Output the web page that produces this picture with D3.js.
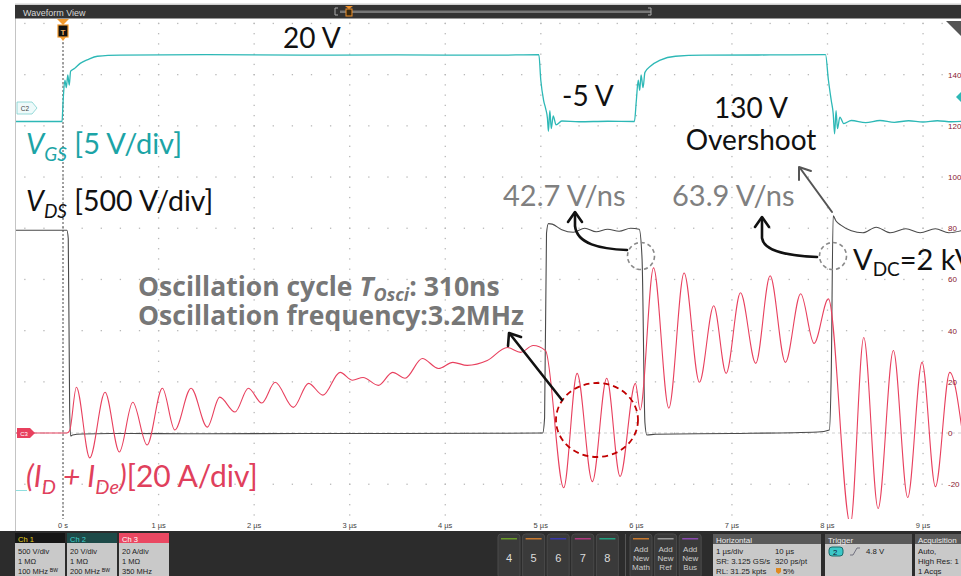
<!DOCTYPE html>
<html><head><meta charset="utf-8">
<script src="https://cdn.jsdelivr.net/npm/d3@7/dist/d3.min.js"></script>
<style>body{margin:0;background:#fff;overflow:hidden}svg{display:block}</style>
</head><body><svg id="c" width="961" height="576"></svg>
<script>
// ---------------- data ----------------
const timeTicks = [0,1,2,3,4,5,6,7,8,9];
const timeTickLabels = ["0 s","1 µs","2 µs","3 µs","4 µs","5 µs","6 µs","7 µs","8 µs","9 µs"];
const currentTicks = [140,120,100,80,60,40,20,0,-20];

// Ch3: (I_D + I_De) in A
const idTime = [-0.5,0.04,0.07,0.14,0.28,0.44,0.59,0.73,0.88,1.04,1.17,1.34,1.51,1.64,1.80,1.94,2.08,2.22,2.41,2.57,2.72,2.90,3.03,3.14,3.30,3.45,3.58,3.76,3.93,4.08,4.23,4.44,4.65,4.79,4.92,5.05,5.24,5.38,5.54,5.69,5.83,5.99,6.04,6.18,6.34,6.50,6.66,6.81,6.94,7.09,7.25,7.40,7.56,7.72,7.86,8.01,8.24,8.38,8.53,8.69,8.84,8.99,9.13,9.28,9.42];
const idAmps = [0,0,1,17.9,-9.7,15.9,-7.4,12,-4.7,17.5,1.2,17.5,2.3,14,8.2,17.5,11.7,19.8,10,19.4,14.8,23.7,20.6,21.7,18.6,23.7,21.4,29.1,25.2,27.6,26.4,28.3,33.4,31.5,34.2,32.2,-21.4,23.3,-19,21.4,-17,19.4,9,64.5,9.7,62.5,19.8,49.7,23.3,54.8,27.2,61.4,27.6,54.4,35,52.4,-35.7,37.3,-29.5,32.2,-25.2,27.6,-21,23.7,-2];

// Ch1: V_DS in V
const vdsTime = [-0.5,0.04,0.055,0.07,0.08,0.1,0.2,0.5,1.5,2.5,3.5,4.5,5.02,5.04,5.06,5.08,5.12,5.22,5.34,5.46,5.58,5.7,5.82,5.94,6.03,6.06,6.09,6.11,6.2,7.0,7.9,8.02,8.04,8.06,8.09,8.14,8.25,8.37,8.51,8.66,8.82,8.97,9.13,9.27,9.42];
const vdsVolts = [1980,1980,1900,200,-30,-20,-10,-5,-8,-5,-5,-3,0,150,1950,2045,2040,1985,1960,2000,1965,1990,1970,2000,1990,1700,100,-20,-12,-5,10,30,600,2120,2070,2030,1975,1955,2010,1955,1995,1955,1995,1955,1980];

// Ch2: V_GS in V
const vgsTime = [-0.5,-0.01,0.0,0.02,0.035,0.05,0.065,0.08,0.12,0.18,0.26,0.36,0.6,1.5,2.5,3.5,4.5,4.98,5.0,5.03,5.05,5.07,5.08,5.095,5.11,5.13,5.16,5.22,5.4,5.7,5.98,6.0,6.02,6.035,6.05,6.07,6.09,6.15,6.25,6.41,6.7,7.4,7.98,8.01,8.04,8.06,8.075,8.09,8.105,8.13,8.17,8.25,8.4,8.55,8.7,8.85,9.0,9.15,9.3,9.42];
const vgsVolts = [-5.2,-5.2,2,11,8,13,9,14.5,15.5,17.5,19,20.3,20.7,20.9,20.7,20.8,20.7,20.9,11,3,0,-4,-9,-1,-8,-3,-6.5,-5,-5.3,-5.1,-5.2,3,11,7,13,8,14,16.5,18.8,20.3,20.7,20.8,20.9,11,3,-2,-10,-1,-8,-3.5,-6,-4.8,-5.6,-4.8,-5.5,-4.9,-5.4,-4.9,-5.3,-5.1];

const chBoxes = [
  {name:"Ch 1", lines:["500 V/div","1 MΩ","100 MHz ᴮᵂ"]},
  {name:"Ch 2", lines:["20 V/div","1 MΩ","200 MHz ᴮᵂ"]},
  {name:"Ch 3", lines:["20 A/div","1 MΩ","350 MHz"]}
];
const slotLabels = ["4","5","6","7","8"];
const addLabels = ["Math","Ref","Bus"];

// ---------------- drawing ----------------
const svg = d3.select("#c");
const W = 961, H = 576;
const x = d3.scaleLinear().domain([0,9]).range([63,923]);
const yI = d3.scaleLinear().domain([0,20]).range([433,381.8]);
const yV = d3.scaleLinear().domain([0,500]).range([433,381.8]);
const yG = d3.scaleLinear().domain([0,20]).range([108.2,57]);
const plotTop = 19, plotBot = 519, plotL = 16;

svg.append("rect").attr("width",W).attr("height",H).attr("fill","#fff");
svg.append("defs").append("clipPath").attr("id","plot")
  .append("rect").attr("x",plotL).attr("y",plotTop).attr("width",W-plotL).attr("height",plotBot-plotTop);

// grid dots
const g = svg.append("g").attr("fill","#b8b8b8");
const rowVals = d3.range(-20,161,20);
rowVals.forEach(v=>{
  const yy = yI(v);
  if (yy<plotTop||yy>plotBot) return;
  for (let xx = x(0) - 19.1*2; xx < W; xx += 19.11) {
    if (xx < plotL+2) continue;
    g.append("rect").attr("x",xx-0.6).attr("y",yy-0.6).attr("width",1.3).attr("height",1.3);
  }
});
timeTicks.forEach(t=>{
  const xx = x(t);
  for (let yy = yI(160); yy < plotBot-2; yy += 10.24) {
    g.append("rect").attr("x",xx-0.6).attr("y",yy-0.6).attr("width",1.3).attr("height",1.3);
  }
});

// zero reference dashed line
svg.append("line").attr("x1",plotL).attr("x2",W).attr("y1",yI(0)).attr("y2",yI(0))
  .attr("stroke","#cfcfcf").attr("stroke-width",1).attr("stroke-dasharray","3,3");

// trigger dotted vertical line
svg.append("line").attr("x1",x(0)).attr("x2",x(0)).attr("y1",42).attr("y2",plotBot)
  .attr("stroke","#333").attr("stroke-width",0.9).attr("stroke-dasharray","2,2");

// traces
const zip = (a,b)=>a.map((d,i)=>[d,b[i]]);
const traces = svg.append("g").attr("clip-path","url(#plot)").attr("fill","none");
traces.append("path").datum(zip(vgsTime,vgsVolts))
  .attr("d", d3.line().x(d=>x(d[0])).y(d=>yG(d[1])).curve(d3.curveMonotoneX))
  .attr("stroke","#2db8b6").attr("stroke-width",1.3);
traces.append("path").datum(zip(vdsTime,vdsVolts))
  .attr("d", d3.line().x(d=>x(d[0])).y(d=>yV(d[1])).curve(d3.curveMonotoneX))
  .attr("stroke","#4a4a4a").attr("stroke-width",1.1);
traces.append("path").datum(zip(idTime,idAmps))
  .attr("d", d3.line().x(d=>x(d[0])).y(d=>yI(d[1])).curve(d3.curveMonotoneX))
  .attr("stroke","#e8405e").attr("stroke-width",1.1);

// right-hand scale labels
svg.append("g").selectAll("text").data(currentTicks).join("text")
  .attr("x",948).attr("y",d=>yI(d)+3).text(d=>d)
  .attr("font-family","Liberation Sans, Arial, sans-serif").attr("font-size",8).attr("fill","#8a2030");

// time labels
svg.append("g").selectAll("text").data(timeTicks).join("text")
  .attr("x",d=>x(d)).attr("y",528).attr("text-anchor","middle").text((d,i)=>timeTickLabels[i])
  .attr("font-family","Liberation Sans, Arial, sans-serif").attr("font-size",7.5).attr("fill","#444");

// left frame
svg.append("line").attr("x1",15.5).attr("x2",15.5).attr("y1",5).attr("y2",531).attr("stroke","#c4c4c4");

// header
svg.append("rect").attr("x",15).attr("y",3.5).attr("width",W-15).attr("height",1.5).attr("fill","#d0d0d0");
svg.append("rect").attr("x",15).attr("y",5).attr("width",W-15).attr("height",13.5).attr("fill","#333333");
svg.append("text").attr("x",23).attr("y",15.5).text("Waveform View")
  .attr("font-family","Liberation Sans, Arial, sans-serif").attr("font-size",9).attr("fill","#d8d8d8");
svg.append("rect").attr("x",340).attr("y",10.5).attr("width",311).attr("height",2.5).attr("fill","#777");
svg.append("path").attr("d","M338,8 L335,8 L335,15 L338,15").attr("stroke","#aaa").attr("fill","none");
svg.append("path").attr("d","M648,8 L651,8 L651,15 L648,15").attr("stroke","#aaa").attr("fill","none");
svg.append("path").attr("d","M345,6 L353,6 L349,9 Z").attr("fill","#f0902a");
svg.append("rect").attr("x",346).attr("y",9).attr("width",6).attr("height",7).attr("fill","#3a2a10").attr("stroke","#f0902a").attr("stroke-width",1);

// trigger T marker
svg.append("path").attr("d","M57,19 L69,19 L63,25 Z").attr("fill","#f39a2e");
svg.append("rect").attr("x",58).attr("y",25).attr("width",10).attr("height",12).attr("fill","#111").attr("stroke","#f39a2e").attr("stroke-width",1.2);
svg.append("text").attr("x",63).attr("y",34.5).attr("text-anchor","middle").text("T")
  .attr("font-family","Liberation Sans, Arial, sans-serif").attr("font-weight","bold").attr("font-size",8).attr("fill","#f7b060");
svg.append("path").attr("d","M60,37 L66,37 L63,41 Z").attr("fill","#f39a2e");

// top right corner triangle
svg.append("path").attr("d","M946,21 L961,21 L961,36 Z").attr("fill","#555");

// channel markers
svg.append("path").attr("d","M17,102 L32,102 L37,108 L32,114 L17,114 Z").attr("fill","#eefafa").attr("stroke","#7fd0cf").attr("stroke-width",0.8);
svg.append("text").attr("x",25).attr("y",111).attr("text-anchor","middle").text("C2")
  .attr("font-family","Liberation Sans, Arial, sans-serif").attr("font-size",6.5).attr("fill","#444");
svg.append("path").attr("d","M17,428 L30,428 L35,433 L30,438 L17,438 Z").attr("fill","#e8405e");
svg.append("text").attr("x",24).attr("y",435.5).attr("text-anchor","middle").text("C3")
  .attr("font-family","Liberation Sans, Arial, sans-serif").attr("font-size",6).attr("fill","#fff");
svg.append("path").attr("d","M961,92 L956,97 L961,102 Z").attr("fill","#2db8b6");
svg.append("line").attr("x1",16).attr("x2",27).attr("y1",490.5).attr("y2",490.5).attr("stroke","#8fdede");

// ---------------- annotations ----------------
const F = "Lato, 'Open Sans', sans-serif";
function txt(xx,yy,size,fill,str,anchor){
  return svg.append("text").attr("x",xx).attr("y",yy).attr("font-family",F).attr("font-size",size)
    .attr("fill",fill).attr("text-anchor",anchor||"start").text(str);
}
txt(283,48,28,"#111","20 V");
txt(562,106,28,"#111","-5 V");
txt(751,118,28,"#111","130 V","middle");
txt(751,150,28,"#111","Overshoot","middle");
txt(503,206,29,"#808080","42.7 V/ns");
txt(672,206,29,"#808080","63.9 V/ns");

let t1 = svg.append("text").attr("x",26).attr("y",154).attr("font-family",F).attr("font-size",29).attr("fill","#1ca4a6");
t1.append("tspan").attr("font-style","italic").text("V");
t1.append("tspan").attr("font-style","italic").attr("font-size",19).attr("dy",7).text("GS");
t1.append("tspan").attr("dy",-7).text(" [5 V/div]");

let t2 = svg.append("text").attr("x",26).attr("y",211).attr("font-family",F).attr("font-size",28.5).attr("fill","#111");
t2.append("tspan").attr("font-style","italic").text("V");
t2.append("tspan").attr("font-style","italic").attr("font-size",19).attr("dy",7).text("DS");
t2.append("tspan").attr("dy",-7).text(" [500 V/div]");

let t3 = svg.append("text").attr("x",26).attr("y",487).attr("font-family",F).attr("font-size",30).attr("fill","#e0405c");
t3.append("tspan").attr("font-style","italic").text("(I");
t3.append("tspan").attr("font-style","italic").attr("font-size",20).attr("dy",7).text("D");
t3.append("tspan").attr("font-style","italic").attr("dy",-7).text(" + I");
t3.append("tspan").attr("font-style","italic").attr("font-size",20).attr("dy",7).text("De");
t3.append("tspan").attr("font-style","italic").attr("dy",-7).text(")");
t3.append("tspan").text("[20 A/div]");

let t4 = svg.append("text").attr("x",853).attr("y",270).attr("font-family",F).attr("font-size",29).attr("fill","#111");
t4.append("tspan").text("V");
t4.append("tspan").attr("font-size",19).attr("dy",6).text("DC");
t4.append("tspan").attr("dy",-6).text("=2 kV");

const FB = "'Open Sans', Lato, sans-serif";
let t5 = svg.append("text").attr("x",138).attr("y",296).attr("font-family",FB).attr("font-size",26.5).attr("font-weight","bold").attr("fill","#777");
t5.append("tspan").text("Oscillation cycle ");
t5.append("tspan").attr("font-style","italic").text("T");
t5.append("tspan").attr("font-style","italic").attr("font-size",18).attr("dy",5).text("Osci");
t5.append("tspan").attr("dy",-5).text(": 310ns");
svg.append("text").attr("x",138).attr("y",325).attr("font-family",FB).attr("font-size",26.5).attr("font-weight","bold")
  .attr("fill","#777").text("Oscillation frequency:3.2MHz");

// dashed circles / ellipse
svg.append("circle").attr("cx",641).attr("cy",256).attr("r",13.5).attr("fill","none")
  .attr("stroke","#888").attr("stroke-width",1.6).attr("stroke-dasharray","4,3");
svg.append("circle").attr("cx",833).attr("cy",256).attr("r",13.5).attr("fill","none")
  .attr("stroke","#888").attr("stroke-width",1.6).attr("stroke-dasharray","4,3");
svg.append("ellipse").attr("cx",597).attr("cy",420).attr("rx",41).attr("ry",37).attr("fill","none")
  .attr("stroke","#c00000").attr("stroke-width",1.8).attr("stroke-dasharray","6,4");

// arrows
const ar = svg.append("g").attr("fill","none").attr("stroke","#111").attr("stroke-width",2.6).attr("stroke-linecap","round").attr("stroke-linejoin","round");
ar.append("path").attr("d","M627,250 C600,249 577,244 575,226 L575,213");
ar.append("path").attr("d","M568,222 L575,212 L582,222");
ar.append("path").attr("d","M817,257 C790,256 764,252 762,238 L762,218");
ar.append("path").attr("d","M755,227 L762,217 L769,227");
ar.append("path").attr("d","M562,400 L510,334");
ar.append("path").attr("d","M508,346 L509,333 L521,337");
const ag = svg.append("g").attr("fill","none").attr("stroke","#555").attr("stroke-width",2).attr("stroke-linecap","round").attr("stroke-linejoin","round");
ag.append("path").attr("d","M832,212 L800,168");
ag.append("path").attr("d","M799,180 L799,167 L811,171");

// ---------------- bottom panel ----------------
const UI = "Liberation Sans, Arial, sans-serif";
svg.append("rect").attr("x",0).attr("y",531).attr("width",W).attr("height",45).attr("fill","#2c2c2c");
const chHead = [{bg:"#161616",fg:"#e4d21c"},{bg:"#1d4a48",fg:"#3ed0cc"},{bg:"#ea4862",fg:"#fff"}];
const chX = [15,67,119];
chBoxes.forEach((c,i)=>{
  const bx = chX[i];
  svg.append("rect").attr("x",bx).attr("y",533).attr("width",50).attr("height",45).attr("rx",2).attr("fill","#c9c9c9");
  svg.append("rect").attr("x",bx).attr("y",533).attr("width",50).attr("height",10).attr("fill",chHead[i].bg);
  svg.append("text").attr("x",bx+3).attr("y",541.5).text(c.name).attr("font-family",UI).attr("font-size",7.5).attr("fill",chHead[i].fg);
  c.lines.forEach((l,j)=>svg.append("text").attr("x",bx+3).attr("y",554+j*10).text(l)
    .attr("font-family",UI).attr("font-size",7.5).attr("fill","#222"));
});
const slotColors = ["#6a9a2a","#c87a30","#3838a8","#b03a80","#22a080"];
slotLabels.forEach((s,i)=>{
  const bx = 498 + i*24.6;
  svg.append("rect").attr("x",bx).attr("y",534).attr("width",22).attr("height",44).attr("rx",3).attr("fill","#3a3a3a").attr("stroke","#4a4a4a");
  svg.append("rect").attr("x",bx+3).attr("y",538).attr("width",16).attr("height",1.5).attr("fill",slotColors[i]);
  svg.append("text").attr("x",bx+11).attr("y",562).attr("text-anchor","middle").text(s)
    .attr("font-family",UI).attr("font-size",11).attr("fill","#ddd");
});
svg.append("line").attr("x1",625.5).attr("x2",625.5).attr("y1",534).attr("y2",576).attr("stroke","#555");
const addColors = ["#c87a30","#999","#8a4ab0"];
addLabels.forEach((s,i)=>{
  const bx = 630 + i*24.6;
  svg.append("rect").attr("x",bx).attr("y",534).attr("width",22).attr("height",44).attr("rx",3).attr("fill","#3a3a3a").attr("stroke","#4a4a4a");
  svg.append("rect").attr("x",bx+3).attr("y",538).attr("width",16).attr("height",1.5).attr("fill",addColors[i]);
  ["Add","New",s].forEach((w,j)=>svg.append("text").attr("x",bx+11).attr("y",552+j*9).attr("text-anchor","middle").text(w)
    .attr("font-family",UI).attr("font-size",8).attr("fill","#ccc"));
});
function infoBox(bx,bw,title){
  svg.append("rect").attr("x",bx).attr("y",534).attr("width",bw).attr("height",44).attr("rx",2).attr("fill","#c9c9c9");
  svg.append("rect").attr("x",bx).attr("y",534).attr("width",bw).attr("height",10).attr("fill","#5a5a5a");
  svg.append("text").attr("x",bx+3).attr("y",542.5).text(title).attr("font-family",UI).attr("font-size",8).attr("fill","#eee");
}
function uiText(xx,yy,s,fill){return svg.append("text").attr("x",xx).attr("y",yy).text(s).attr("font-family",UI).attr("font-size",7.8).attr("fill",fill||"#222");}
infoBox(713,108,"Horizontal");
uiText(716,554,"1 µs/div"); uiText(775,554,"10 µs");
uiText(716,564,"SR: 3.125 GS/s"); uiText(775,564,"320 ps/pt");
uiText(716,574,"RL: 31.25 kpts"); uiText(783,574,"5%");
svg.append("path").attr("d","M776,568 L781,568 L781,572 L778.5,574 L776,572 Z").attr("fill","#e08a20");
infoBox(825,87,"Trigger");
svg.append("rect").attr("x",829).attr("y",547).attr("width",14).attr("height",9).attr("rx",3).attr("fill","#3cc8c8").attr("stroke","#1a6a6a");
uiText(833,554.5,"2","#113");
svg.append("path").attr("d","M850,555 L853,555 L857,548 L860,548").attr("fill","none").attr("stroke","#667").attr("stroke-width",0.9);
uiText(866,554,"4.8 V");
infoBox(915,60,"Acquisition");
uiText(918,554,"Auto,"); uiText(918,564,"High Res: 1"); uiText(918,574,"1 Acqs");
</script></body></html>
